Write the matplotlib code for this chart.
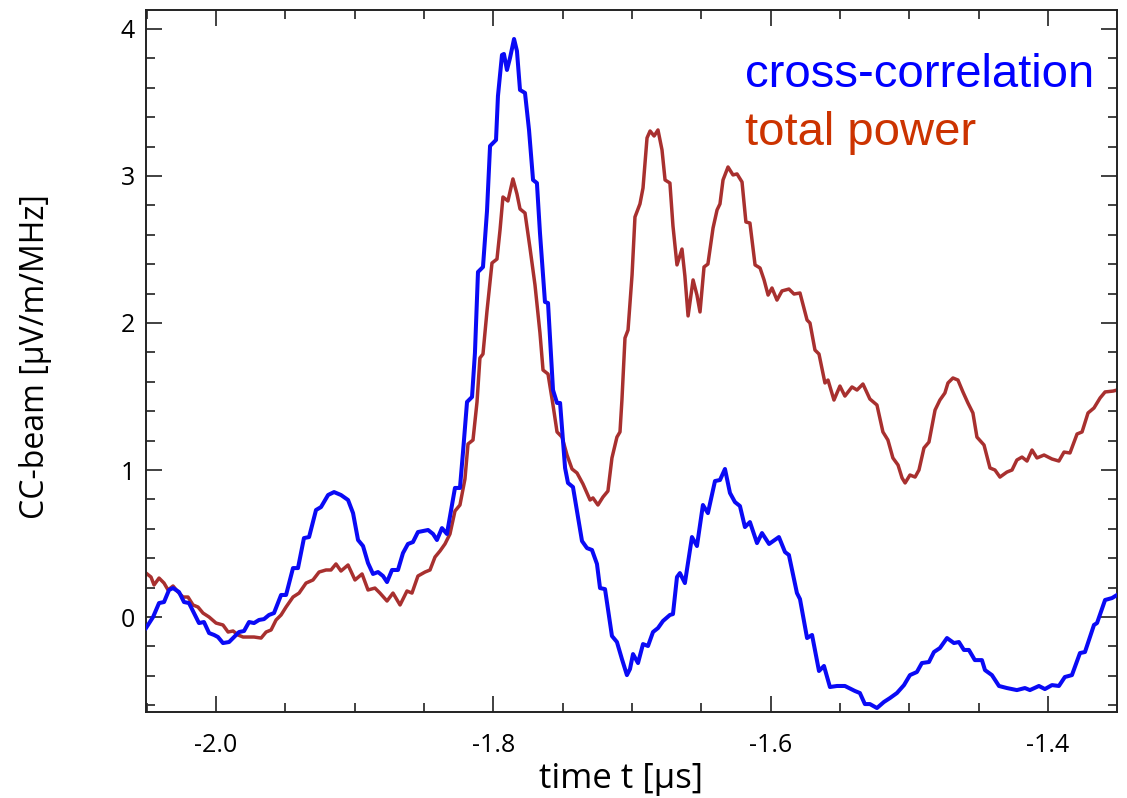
import matplotlib
matplotlib.use("Agg")
import matplotlib.pyplot as plt
from matplotlib.ticker import MultipleLocator, FixedLocator

plt.rcParams['axes.unicode_minus'] = False
plt.rcParams['font.family'] = ['Open Sans', 'DejaVu Sans']

# cross-correlation beam (blue)
cc_t = [-2.0505, -2.0454, -2.0411, -2.0375, -2.0339, -2.0310, -2.0267, -2.0231, -2.0195, -2.0159,
        -2.0123, -2.0087, -2.0050, -2.0014, -1.9986, -1.9950, -1.9906, -1.9870, -1.9834, -1.9798,
        -1.9762, -1.9726, -1.9690, -1.9654, -1.9618, -1.9582, -1.9531, -1.9495, -1.9445, -1.9409,
        -1.9366, -1.9329, -1.9279, -1.9243, -1.9192, -1.9149, -1.9099, -1.9048, -1.9012, -1.8976,
        -1.8940, -1.8904, -1.8868, -1.8832, -1.8796, -1.8767, -1.8731, -1.8688, -1.8652, -1.8616,
        -1.8580, -1.8544, -1.8471, -1.8435, -1.8407, -1.8371, -1.8335, -1.8299, -1.8277, -1.8241,
        -1.8219, -1.8190, -1.8154, -1.8133, -1.8111, -1.8075, -1.8046, -1.8024, -1.7981, -1.7967,
        -1.7938, -1.7924, -1.7902, -1.7880, -1.7851, -1.7830, -1.7808, -1.7772, -1.7743, -1.7714,
        -1.7686, -1.7664, -1.7628, -1.7606, -1.7570, -1.7541, -1.7519, -1.7483, -1.7462, -1.7426,
        -1.7361, -1.7325, -1.7289, -1.7253, -1.7231, -1.7195, -1.7145, -1.7109, -1.7073, -1.7037,
        -1.7015, -1.6993, -1.6957, -1.6921, -1.6885, -1.6849, -1.6813, -1.6777, -1.6727, -1.6705,
        -1.6676, -1.6655, -1.6619, -1.6568, -1.6532, -1.6489, -1.6453, -1.6402, -1.6366, -1.6330,
        -1.6294, -1.6258, -1.6222, -1.6186, -1.6150, -1.6099, -1.6063, -1.6012, -1.5941, -1.5897,
        -1.5869, -1.5811, -1.5789, -1.5738, -1.5702, -1.5652, -1.5616, -1.5573, -1.5522, -1.5465,
        -1.5393, -1.5357, -1.5321, -1.5285, -1.5234, -1.5184, -1.5140, -1.5090, -1.5039, -1.4996,
        -1.4946, -1.4910, -1.4859, -1.4823, -1.4780, -1.4729, -1.4679, -1.4643, -1.4607, -1.4571,
        -1.4528, -1.4477, -1.4455, -1.4405, -1.4354, -1.4297, -1.4225, -1.4167, -1.4131, -1.4066,
        -1.4023, -1.3972, -1.3922, -1.3879, -1.3828, -1.3770, -1.3734, -1.3669, -1.3647, -1.3589,
        -1.3539, -1.3503]
cc_v = [-0.075, 0.000, 0.095, 0.102, 0.184, 0.197, 0.170, 0.102, 0.095, 0.027,
        -0.041, -0.034, -0.109, -0.122, -0.136, -0.177, -0.170, -0.136, -0.102, -0.095,
        -0.034, -0.041, -0.020, -0.014, 0.014, 0.027, 0.150, 0.150, 0.333, 0.333,
        0.537, 0.544, 0.728, 0.748, 0.830, 0.850, 0.830, 0.796, 0.707, 0.524,
        0.483, 0.367, 0.293, 0.306, 0.279, 0.238, 0.320, 0.320, 0.435, 0.497,
        0.510, 0.578, 0.592, 0.565, 0.524, 0.605, 0.565, 0.762, 0.878, 0.878,
        1.122, 1.463, 1.497, 1.796, 2.347, 2.381, 2.762, 3.204, 3.245, 3.544,
        3.823, 3.830, 3.721, 3.803, 3.932, 3.850, 3.585, 3.565, 3.313, 2.973,
        2.952, 2.612, 2.143, 2.136, 1.544, 1.456, 1.456, 1.014, 0.912, 0.884,
        0.517, 0.469, 0.456, 0.361, 0.197, 0.190, -0.129, -0.170, -0.286, -0.395,
        -0.354, -0.252, -0.313, -0.184, -0.197, -0.102, -0.075, -0.027, 0.014, 0.020,
        0.272, 0.299, 0.231, 0.544, 0.483, 0.762, 0.707, 0.925, 0.932, 1.007,
        0.844, 0.782, 0.755, 0.612, 0.646, 0.503, 0.571, 0.497, 0.544, 0.442,
        0.422, 0.163, 0.122, -0.143, -0.122, -0.367, -0.333, -0.476, -0.469, -0.469,
        -0.503, -0.517, -0.592, -0.592, -0.619, -0.578, -0.551, -0.517, -0.463, -0.395,
        -0.374, -0.313, -0.306, -0.238, -0.211, -0.143, -0.177, -0.170, -0.224, -0.224,
        -0.293, -0.293, -0.361, -0.395, -0.469, -0.483, -0.497, -0.483, -0.497, -0.469,
        -0.490, -0.463, -0.469, -0.408, -0.395, -0.245, -0.238, -0.054, -0.041, 0.116,
        0.129, 0.150]

# total power beam (brown)
tp_t = [-2.0505, -2.0469, -2.0447, -2.0411, -2.0375, -2.0346, -2.0310, -2.0274, -2.0238, -2.0202,
        -2.0166, -2.0130, -2.0094, -2.0050, -2.0000, -1.9950, -1.9913, -1.9877, -1.9841, -1.9805,
        -1.9762, -1.9726, -1.9675, -1.9639, -1.9603, -1.9567, -1.9531, -1.9495, -1.9445, -1.9401,
        -1.9351, -1.9301, -1.9257, -1.9207, -1.9171, -1.9135, -1.9099, -1.9048, -1.8998, -1.8947,
        -1.8904, -1.8854, -1.8818, -1.8767, -1.8724, -1.8673, -1.8623, -1.8587, -1.8544, -1.8493,
        -1.8457, -1.8421, -1.8385, -1.8349, -1.8313, -1.8277, -1.8241, -1.8205, -1.8183, -1.8147,
        -1.8118, -1.8097, -1.8075, -1.8046, -1.8010, -1.7974, -1.7952, -1.7931, -1.7895, -1.7859,
        -1.7830, -1.7808, -1.7772, -1.7736, -1.7700, -1.7664, -1.7642, -1.7606, -1.7570, -1.7541,
        -1.7505, -1.7469, -1.7433, -1.7397, -1.7354, -1.7303, -1.7282, -1.7246, -1.7210, -1.7174,
        -1.7145, -1.7109, -1.7087, -1.7073, -1.7051, -1.7029, -1.7000, -1.6979, -1.6943, -1.6921,
        -1.6892, -1.6870, -1.6841, -1.6813, -1.6784, -1.6762, -1.6727, -1.6705, -1.6676, -1.6640,
        -1.6619, -1.6596, -1.6560, -1.6532, -1.6510, -1.6481, -1.6453, -1.6416, -1.6387, -1.6366,
        -1.6344, -1.6308, -1.6272, -1.6243, -1.6207, -1.6179, -1.6150, -1.6113, -1.6077, -1.6048,
        -1.6019, -1.5991, -1.5955, -1.5919, -1.5869, -1.5832, -1.5789, -1.5738, -1.5717, -1.5681,
        -1.5652, -1.5609, -1.5587, -1.5544, -1.5501, -1.5465, -1.5414, -1.5378, -1.5335, -1.5285,
        -1.5234, -1.5191, -1.5155, -1.5119, -1.5082, -1.5053, -1.5031, -1.4996, -1.4959, -1.4931,
        -1.4895, -1.4859, -1.4815, -1.4780, -1.4744, -1.4722, -1.4686, -1.4650, -1.4614, -1.4578,
        -1.4542, -1.4513, -1.4462, -1.4419, -1.4383, -1.4347, -1.4297, -1.4260, -1.4225, -1.4188,
        -1.4152, -1.4116, -1.4080, -1.4029, -1.3972, -1.3922, -1.3885, -1.3842, -1.3791, -1.3755,
        -1.3712, -1.3669, -1.3625, -1.3589, -1.3531, -1.3503]
tp_v = [0.299, 0.272, 0.218, 0.265, 0.231, 0.184, 0.211, 0.170, 0.136, 0.136,
        0.082, 0.068, 0.027, 0.000, -0.041, -0.054, -0.102, -0.095, -0.122, -0.136,
        -0.136, -0.136, -0.143, -0.102, -0.088, -0.020, 0.014, 0.068, 0.136, 0.163,
        0.231, 0.252, 0.306, 0.320, 0.320, 0.361, 0.313, 0.354, 0.252, 0.293,
        0.184, 0.197, 0.163, 0.109, 0.163, 0.082, 0.177, 0.163, 0.279, 0.306,
        0.320, 0.408, 0.449, 0.497, 0.565, 0.721, 0.762, 0.939, 1.177, 1.204,
        1.463, 1.762, 1.789, 2.082, 2.408, 2.435, 2.633, 2.857, 2.830, 2.980,
        2.878, 2.776, 2.748, 2.510, 2.259, 1.932, 1.680, 1.653, 1.442, 1.259,
        1.224, 1.102, 1.007, 0.980, 0.905, 0.796, 0.810, 0.762, 0.816, 0.857,
        1.082, 1.224, 1.259, 1.476, 1.898, 1.952, 2.327, 2.721, 2.810, 2.918,
        3.259, 3.306, 3.272, 3.313, 3.177, 2.973, 2.952, 2.660, 2.395, 2.503,
        2.320, 2.048, 2.293, 2.190, 2.075, 2.381, 2.401, 2.646, 2.769, 2.810,
        2.973, 3.061, 3.007, 3.014, 2.959, 2.687, 2.680, 2.395, 2.374, 2.293,
        2.190, 2.238, 2.156, 2.218, 2.231, 2.197, 2.204, 2.020, 2.000, 1.816,
        1.789, 1.592, 1.612, 1.476, 1.571, 1.503, 1.565, 1.544, 1.585, 1.483,
        1.442, 1.259, 1.204, 1.082, 1.034, 0.946, 0.912, 0.966, 0.952, 1.000,
        1.150, 1.190, 1.408, 1.476, 1.524, 1.592, 1.626, 1.612, 1.531, 1.456,
        1.388, 1.224, 1.170, 1.014, 1.000, 0.952, 0.986, 1.000, 1.068, 1.088,
        1.061, 1.136, 1.082, 1.102, 1.075, 1.061, 1.122, 1.116, 1.245, 1.259,
        1.388, 1.422, 1.490, 1.531, 1.537, 1.544]

x_major = [-2.0, -1.8, -1.6, -1.4]
x_labels = ["-2.0", "-1.8", "-1.6", "-1.4"]
y_major = [0, 1, 2, 3, 4]
y_labels = ["0", "1", "2", "3", "4"]

fig = plt.figure(figsize=(11.27, 7.98), dpi=100)
ax = fig.add_axes([146/1127, 1 - 712/798, 971/1127, 702/798])

ax.plot(tp_t, tp_v, color='#A8302F', lw=2.5, solid_joinstyle='round', zorder=2)
ax.plot(cc_t, cc_v, color='#0A0AF5', lw=2.9, solid_joinstyle='round', zorder=3)

ax.set_xlim(-2.0505, -1.3503)
ax.set_ylim(-0.646, 4.129)

ax.xaxis.set_major_locator(FixedLocator(x_major))
ax.set_xticklabels(x_labels)
ax.xaxis.set_minor_locator(MultipleLocator(0.05))
ax.yaxis.set_major_locator(FixedLocator(y_major))
ax.set_yticklabels(y_labels)
ax.yaxis.set_minor_locator(MultipleLocator(0.2))

ax.tick_params(which='both', direction='in', top=True, right=True, color='#333333', width=1.3)
ax.tick_params(which='major', length=11.5, labelsize=18)
ax.tick_params(which='minor', length=6.5)
ax.tick_params(axis='x', which='major', pad=15)
ax.tick_params(axis='y', which='major', pad=8)
for s in ax.spines.values():
    s.set_linewidth(1.4)
    s.set_color('#222222')

ax.set_xlabel("time t [μs]", fontsize=25, va='center')
ax.xaxis.set_label_coords((621 - 146) / 971, (712 - 779) / 702)
ax.set_ylabel("CC-beam [μV/m/MHz]", fontsize=23, va='center')
ax.yaxis.set_label_coords((36 - 146) / 971, (712 - 357) / 702)

fig.text(745/1127, 1 - 87/798, "cross-correlation", color='#0000FF', fontsize=34,
         family=['Liberation Sans', 'DejaVu Sans'], va='baseline', ha='left')
fig.text(745/1127, 1 - 145/798, "total power", color='#CC3300', fontsize=34,
         family=['Liberation Sans', 'DejaVu Sans'], va='baseline', ha='left')

fig.savefig("out.png", dpi=100)
